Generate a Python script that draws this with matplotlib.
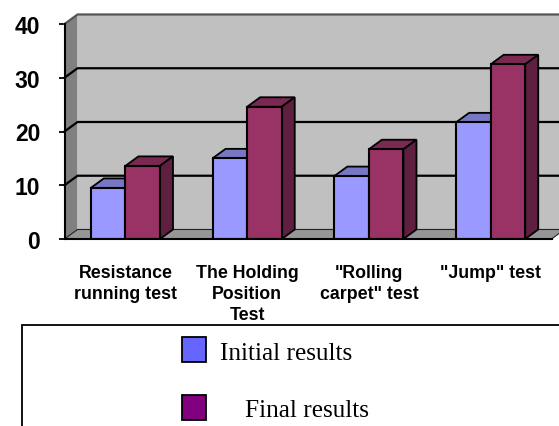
import matplotlib
matplotlib.use("Agg")
import matplotlib.pyplot as plt
from matplotlib.patches import Polygon, Rectangle

categories = ['Resistance\nrunning test', 'The Holding\nPosition\nTest', '"Rolling\ncarpet" test', '"Jump" test']
initial = [9.5, 15, 11.7, 21.7]
final = [13.6, 24.6, 16.7, 32.5]
y_ticks = [0, 10, 20, 30, 40]
legend_labels = ['Initial results', 'Final results']

W, H = 559, 427
DX, DY = 0.107, 1.77   # depth of the fake 3d box, in data units
BW = 0.284


def box3d(ax, x, v, front, top, side):
    """One 3d looking bar, left edge x and height v"""
    ax.add_patch(Polygon([(x, v), (x + DX, v + DY), (x + BW + DX, v + DY), (x + BW, v)],
                         fc=top, ec='black', lw=1.3, zorder=5, clip_on=False))
    ax.add_patch(Polygon([(x + BW, 0), (x + BW + DX, DY), (x + BW + DX, v + DY), (x + BW, v)],
                         fc=side, ec='black', lw=1.3, zorder=5, clip_on=False))
    ax.bar(x, v, BW, align='edge', color=front, edgecolor='black', linewidth=1.5, zorder=6)


fig = plt.figure(figsize=(W / 100, H / 100), dpi=100)
ax = fig.add_axes([64.5 / W, 1 - 240 / H, 487 / W, 215 / H])
ax.set_xlim(-0.5, 3.5)
ax.set_ylim(0, 40)
ax.patch.set_visible(False)

# walls and floor
ax.add_patch(Polygon([(-0.5 + DX, DY), (3.5 + DX, DY), (3.5 + DX, 40 + DY), (-0.5 + DX, 40 + DY)],
                     fc='#c0c0c0', ec='none', zorder=1, clip_on=False))
ax.add_patch(Polygon([(-0.5, 0), (-0.5 + DX, DY), (-0.5 + DX, 40 + DY), (-0.5, 40)],
                     fc='#808080', ec='none', zorder=1, clip_on=False))
ax.add_patch(Polygon([(-0.5, 0), (3.5, 0), (3.5 + DX, DY), (-0.5 + DX, DY)],
                     fc='#969696', ec='#222222', lw=0.8, zorder=2, clip_on=False))
ax.plot([-0.5, -0.5 + DX, 3.5 + DX], [40, 40 + DY, 40 + DY], color='#555555', lw=1.6, zorder=2, clip_on=False)

# gridlines on the back and side wall
for t in y_ticks[1:-1]:
    ax.plot([-0.5, -0.5 + DX, 3.5 + DX], [t, t + DY, t + DY], color='black', lw=1.6, zorder=3, clip_on=False)

for i in range(len(categories)):
    box3d(ax, i - BW, initial[i], '#9999ff', '#7777c4', '#5c5c99')
    box3d(ax, i, final[i], '#993366', '#7a2952', '#5f2040')

for s in ['top', 'right']:
    ax.spines[s].set_visible(False)
for s in ['left', 'bottom']:
    ax.spines[s].set_linewidth(1.5)
    ax.spines[s].set_zorder(7)

ax.set_yticks(y_ticks)
ax.set_yticklabels([str(t) for t in y_ticks], fontfamily='Liberation Sans', fontweight='bold', fontsize=16.5)
ax.tick_params(axis='y', length=4.5, width=1.3, pad=13)

# boundaries carry the ticks, centres carry the labels
ax.set_xticks([i + 0.5 for i in range(len(categories))])
ax.set_xticklabels([])
ax.tick_params(axis='x', which='major', direction='in', length=3.5, width=0.9, zorder=7)
ax.set_xticks(range(len(categories)), minor=True)
ax.set_xticklabels(categories, minor=True, fontfamily='Liberation Sans', fontweight='bold',
                   fontsize=12.8, linespacing=1.3)
ax.tick_params(axis='x', which='minor', length=0, pad=18)

# legend box, cut off by the image edge like the reference
fig.add_artist(Rectangle((22 / W, -0.02), 0.98, 1 - 326 / H + 0.02, transform=fig.transFigure,
                         fc='white', ec='black', lw=1.3))
colors = ['#6666ff', '#800080']
swatch_y = [338, 396]
text_x = [220, 245]
for lab, c, sy, tx in zip(legend_labels, colors, swatch_y, text_x):
    fig.add_artist(Rectangle((181.5 / W, 1 - (sy + 24.5) / H), 24.5 / W, 24.5 / H, transform=fig.transFigure,
                             fc=c, ec='black', lw=1.3))
    fig.text(tx / W, 1 - (sy + 15.5) / H, lab, family='Liberation Serif', fontsize=18.2, va='center', ha='left')

fig.savefig('out.png', dpi=100)
